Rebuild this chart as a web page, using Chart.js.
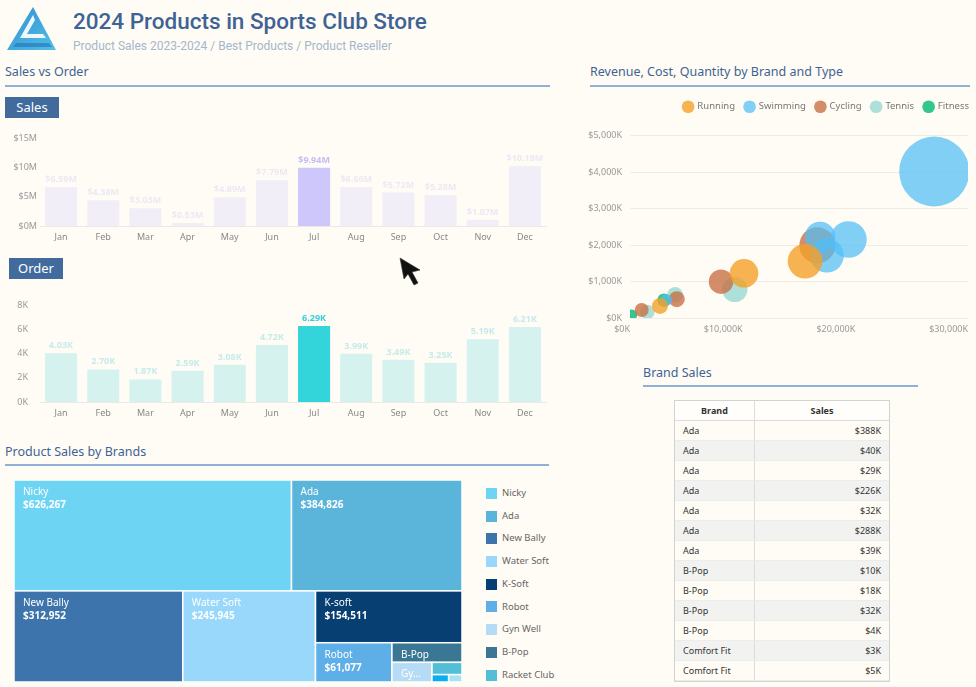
<!DOCTYPE html>
<html>
<head>
<meta charset="utf-8">
<title>2024 Products in Sports Club Store</title>
<script src="https://cdn.jsdelivr.net/npm/chart.js@4.4.1/dist/chart.umd.min.js"></script>
<style>
  body { margin: 0; width: 976px; height: 687px; background: #fffcf5; font-family: "Noto Sans", sans-serif; overflow: hidden; position: relative; }
  .abs { position: absolute; }
  .title { left: 73px; top: 8px; font-family: Roboto, sans-serif; font-size: 22.5px; font-weight: 500; color: #3e6394; white-space: nowrap; }
  .subtitle { left: 73px; top: 39px; font-family: Roboto, sans-serif; font-size: 12px; color: #a4b6cc; white-space: nowrap; }
  .section { font-size: 12.5px; color: #3e6394; white-space: nowrap; }
  .rule { height: 2px; background: #8fb0d8; }
  .tag { background: #406b9c; color: #fff; font-size: 13px; text-align: center; line-height: 21px; }
  .legend-item { position: absolute; left: 486px; font-size: 9.5px; color: #666; white-space: nowrap; }
  .legend-item span { display: inline-block; width: 11px; height: 11px; vertical-align: middle; margin-right: 5px; }
  table { border-collapse: collapse; font-size: 9px; color: #333; }
  th, td { height: 19px; padding: 0 8px; border-bottom: 1px solid #ececec; }
  th { background: #fffefb; font-weight: bold; text-align: center; border-bottom: 1px solid #dcdcdc; }
  td.num { text-align: right; }
  tr.alt td { background: #f2f2f1; }
</style>
</head>
<body>

<svg class="abs" style="left:4px;top:5px" width="54" height="48" viewBox="0 0 54 48">
  <defs>
    <linearGradient id="lg" x1="0" y1="0" x2="1" y2="1">
      <stop offset="0" stop-color="#2f8fd2"/>
      <stop offset="1" stop-color="#55bfe6"/>
    </linearGradient>
  </defs>
  <polygon points="29,2 3,45 52,45" fill="url(#lg)"/>
  <polygon points="29,10 16,33 42,33 39,29 23,29 31,15" fill="#ffffff" opacity="0.9"/>
  <polygon points="12,38 45,38 48,42 9,42" fill="#1f73b8" opacity="0.6"/>
</svg>
<div class="abs title">2024 Products in Sports Club Store</div>
<div class="abs subtitle">Product Sales 2023-2024 / Best Products / Product Reseller</div>

<div class="abs section" style="left:5px;top:63px">Sales vs Order</div>
<div class="abs rule" style="left:5px;top:85px;width:545px"></div>
<div class="abs section" style="left:590px;top:63px">Revenue, Cost, Quantity by Brand and Type</div>
<div class="abs rule" style="left:590px;top:85px;width:380px"></div>
<div class="abs section" style="left:5px;top:443px">Product Sales by Brands</div>
<div class="abs rule" style="left:5px;top:464px;width:544px"></div>
<div class="abs section" style="left:643px;top:364px">Brand Sales</div>
<div class="abs rule" style="left:643px;top:385px;width:275px"></div>

<div class="abs tag" style="left:5px;top:97px;width:54px;height:21px">Sales</div>
<div class="abs tag" style="left:9px;top:258px;width:54px;height:21px">Order</div>

<canvas id="salesChart" class="abs" style="left:0;top:128px" width="556" height="120"></canvas>
<canvas id="orderChart" class="abs" style="left:0;top:288px" width="556" height="134"></canvas>
<canvas id="bubbleChart" class="abs" style="left:560px;top:92px" width="416" height="248"></canvas>
<canvas id="treemapChart" class="abs" style="left:14px;top:480px" width="448" height="202"></canvas>
<div id="treemapLegend"></div>

<div class="abs" style="left:674px;top:400px;border:1px solid #d2d2d2">
  <table id="brandTable">
    <thead><tr><th style="width:63px">Brand</th><th style="width:118px;border-left:1px solid #dcdcdc">Sales</th></tr></thead>
    <tbody></tbody>
  </table>
</div>

<svg class="abs" style="left:399px;top:257px" width="24" height="30" viewBox="0 0 24 30">
  <polygon points="1,1 5,22 9,17 15,28 19,26 13,15 21,13" fill="#111" stroke="#333" stroke-width="0.6"/>
</svg>

<script>
// monthly sales vs orders
var months = ['Jan', 'Feb', 'Mar', 'Apr', 'May', 'Jun', 'Jul', 'Aug', 'Sep', 'Oct', 'Nov', 'Dec'];
var salesValues = [6.59, 4.38, 3.03, 0.53, 4.89, 7.79, 9.94, 6.66, 5.72, 5.28, 1.07, 10.18]; // $M
var orderValues = [4.03, 2.70, 1.87, 2.59, 3.08, 4.72, 6.29, 3.99, 3.49, 3.25, 5.19, 6.21]; // K
var highlightMonth = 'Jul';
var salesTickMax = 15;
var orderTickMax = 8;

// bubble points: [revenue $K, cost $K, quantity]
var bubbleTypes = ['Running', 'Swimming', 'Cycling', 'Tennis', 'Fitness'];
var runningPoints = [[15540, 1555, 1200], [10120, 1225, 820], [2660, 331, 256]];
var swimmingPoints = [[27000, 4014, 4900], [16870, 2220, 940], [19390, 2150, 1340], [17470, 1710, 1160], [3200, 490, 144]];
var cyclingPoints = [[16630, 1990, 1300], [8080, 995, 600], [4150, 517, 256], [1040, 221, 196]];
var tennisPoints = [[9300, 782, 640], [4000, 635, 244], [1540, 166, 212]];
var fitnessPoints = [[3020, 490, 180], [150, 83, 121]];

// treemap brands
var brandNames = ['Nicky', 'Ada', 'New Bally', 'Water Soft', 'K-soft', 'Robot', 'B-Pop', 'Gym Well', 'Racket Club', 'Comfort Fit', 'Sprint'];
var brandValues = [626267, 384826, 312952, 245945, 154511, 61077, 28000, 16000, 7500, 2500, 2000];
var legendNames = ['Nicky', 'Ada', 'New Bally', 'Water Soft', 'K-Soft', 'Robot', 'Gyn Well', 'B-Pop', 'Racket Club'];

// table rows
var tableBrands = ['Ada', 'Ada', 'Ada', 'Ada', 'Ada', 'Ada', 'Ada', 'B-Pop', 'B-Pop', 'B-Pop', 'B-Pop', 'Comfort Fit', 'Comfort Fit'];
var tableSales = [388, 40, 29, 226, 32, 288, 39, 10, 18, 32, 4, 3, 5]; // $K

var brandColors = {
  'Nicky': '#6dd5f3', 'Ada': '#5bb5da', 'New Bally': '#3d74ab', 'Water Soft': '#9ad8fb',
  'K-soft': '#073f72', 'Robot': '#5eaee8', 'B-Pop': '#3a7795', 'Gym Well': '#b6dbf4',
  'Racket Club': '#52bfd6', 'Comfort Fit': '#08aef0', 'Sprint': '#a7e3f7'
};
var legendColors = ['#6dd5f3', '#5bb5da', '#3d74ab', '#9ad8fb', '#073f72', '#5eaee8', '#b6dbf4', '#3a7795', '#52bfd6'];
var typeColors = ['rgba(245,160,40,0.8)', 'rgba(80,190,245,0.72)', 'rgba(200,112,70,0.8)', 'rgba(150,215,208,0.78)', 'rgba(40,195,135,0.95)'];

var tickFont = { family: '"Noto Sans", sans-serif', size: 9 };

// value labels above bars
function makeBarLabels(format, color, hiColor) {
  return {
    id: 'barLabels',
    afterDatasetsDraw: function(chart) {
      var ctx = chart.ctx;
      var meta = chart.getDatasetMeta(0);
      var data = chart.data.datasets[0].data;
      ctx.save();
      ctx.textAlign = 'center';
      ctx.textBaseline = 'bottom';
      ctx.font = 'bold 9px "Noto Sans", sans-serif';
      meta.data.forEach(function(bar, i) {
        ctx.fillStyle = months[i] === highlightMonth ? hiColor : color;
        ctx.fillText(format(data[i]), bar.x, bar.y - 3);
      });
      ctx.restore();
    }
  };
}

function barChart(id, values, max, step, color, hiColor, labelPlugin, tickFmt, tickPad, axisH) {
  return new Chart(document.getElementById(id), {
    type: 'bar',
    data: {
      labels: months,
      datasets: [{
        data: values,
        backgroundColor: months.map(function(m) { return m === highlightMonth ? hiColor : color; }),
        barPercentage: 0.76,
        categoryPercentage: 1
      }]
    },
    options: {
      responsive: false,
      animation: false,
      layout: { padding: { top: 10, right: 10 } },
      plugins: { legend: { display: false }, tooltip: { enabled: false } },
      scales: {
        x: {
          grid: { display: false, drawTicks: false },
          border: { display: true, color: '#ebe9e4' },
          ticks: { color: '#888', font: tickFont, padding: 6 },
          afterFit: function(s) { s.height = axisH; }
        },
        y: {
          min: 0, max: max,
          grid: { display: false, drawTicks: false },
          border: { display: false },
          ticks: { stepSize: step, color: '#999', font: tickFont, padding: tickPad, callback: tickFmt },
          afterFit: function(s) { s.width = 40; }
        }
      }
    },
    plugins: [labelPlugin]
  });
}

barChart('salesChart', salesValues, salesTickMax, 5, '#f2eef8', '#cec7fb',
  makeBarLabels(function(v) { return '$' + v.toFixed(2) + 'M'; }, '#ece8f4', '#c4bcf7'),
  function(v) { return '$' + v + 'M'; }, 3, 22);

barChart('orderChart', orderValues, orderTickMax, 2, '#d5f2ef', '#33d4da',
  makeBarLabels(function(v) { return v.toFixed(2) + 'K'; }, '#c5ebeb', '#35cfd8'),
  function(v) { return v + 'K'; }, 12, 20);

// bubble chart
var pointSets = [runningPoints, swimmingPoints, cyclingPoints, tennisPoints, fitnessPoints];
var legendGap = {
  id: 'legendGap',
  afterInit: function(chart) {
    var lg = chart.legend;
    var fit = lg.fit;
    lg.fit = function() {
      fit.apply(this, arguments);
      this.height += 14;
    };
  },
  afterLayout: function(chart) {
    chart.legend.right += 11;
  }
};

new Chart(document.getElementById('bubbleChart'), {
  type: 'bubble',
  data: {
    datasets: bubbleTypes.map(function(t, i) {
      return {
        label: t,
        data: pointSets[i].map(function(p) { return { x: p[0], y: p[1], r: Math.sqrt(p[2]) / 2 }; }),
        backgroundColor: typeColors[i],
        borderWidth: 0
      };
    })
  },
  options: {
    responsive: false,
    animation: false,
    layout: { autoPadding: false, padding: { right: 8 } },
    plugins: {
      tooltip: { enabled: false },
      legend: {
        position: 'top',
        align: 'end',
        labels: { usePointStyle: true, pointStyle: 'circle', boxWidth: 9, boxHeight: 9, padding: 10, color: '#777', font: { family: '"Noto Sans", sans-serif', size: 9.5 } }
      }
    },
    scales: {
      x: {
        min: 0, max: 30000,
        grid: { display: false, drawTicks: false },
        border: { display: false },
        ticks: { stepSize: 10000, align: 'end', color: '#999', font: tickFont, padding: 6,
          callback: function(v) { return '$' + v.toLocaleString('en-US') + 'K'; } },
        afterFit: function(s) { s.height = 22; }
      },
      y: {
        min: 0, max: 5000,
        grid: { color: '#efece5', drawTicks: false },
        border: { display: false },
        ticks: { stepSize: 1000, color: '#999', font: tickFont, padding: 8,
          callback: function(v) { return '$' + v.toLocaleString('en-US') + 'K'; } },
        afterFit: function(s) { s.width = 70; }
      }
    }
  },
  plugins: [legendGap]
});

// treemap: balanced binary split, cut direction follows box shape
function sumOf(items) { return items.reduce(function(a, b) { return a + b.value; }, 0); }
function splitCells(items, x, y, w, h, out) {
  if (items.length === 1) { out.push({ item: items[0], x: x, y: y, w: w, h: h }); return; }
  var total = sumOf(items), acc = 0, cut = 1, best = Infinity;
  for (var i = 0; i < items.length - 1; i++) {
    acc += items[i].value;
    var d = Math.abs(acc - total / 2);
    if (d < best) { best = d; cut = i + 1; }
  }
  var a = items.slice(0, cut), b = items.slice(cut);
  var f = sumOf(a) / total;
  if (w > h * 2.5) {
    splitCells(a, x, y, w * f, h, out);
    splitCells(b, x + w * f, y, w * (1 - f), h, out);
  } else {
    splitCells(a, x, y, w, h * f, out);
    splitCells(b, x, y + h * f, w, h * (1 - f), out);
  }
}

var treemapCells = {
  id: 'treemapCells',
  afterDatasetsDraw: function(chart) {
    var xs = chart.scales.x, ys = chart.scales.y;
    var left = xs.getPixelForValue(0), right = xs.getPixelForValue(1);
    var top = ys.getPixelForValue(1), bottom = ys.getPixelForValue(0);
    var items = brandNames.map(function(n, i) { return { name: n, value: brandValues[i] }; });
    var cells = [];
    splitCells(items, left, top, right - left, bottom - top, cells);
    var ctx = chart.ctx;
    ctx.save();
    cells.forEach(function(c) {
      ctx.fillStyle = brandColors[c.item.name];
      ctx.fillRect(c.x, c.y, c.w, c.h);
      ctx.strokeStyle = '#ffffff';
      ctx.lineWidth = 1.5;
      ctx.strokeRect(c.x, c.y, c.w, c.h);
      if (c.h < 16 || c.w < 24) return;
      ctx.fillStyle = '#ffffff';
      ctx.textBaseline = 'middle';
      ctx.font = '10px "Noto Sans", sans-serif';
      var name = c.item.name;
      var room = c.w - 14;
      if (ctx.measureText(name).width > room) {
        while (name.length > 1 && ctx.measureText(name + '...').width > room) name = name.slice(0, -1);
        name = name + '...';
      }
      ctx.fillText(name, c.x + 9, c.y + 12);
      if (c.h >= 36 && c.w >= 50) {
        ctx.font = 'bold 10px "Noto Sans", sans-serif';
        ctx.fillText('$' + c.item.value.toLocaleString('en-US'), c.x + 9, c.y + 25);
      }
    });
    ctx.restore();
  }
};

new Chart(document.getElementById('treemapChart'), {
  type: 'scatter',
  data: { datasets: [{ data: [] }] },
  options: {
    responsive: false,
    animation: false,
    plugins: { legend: { display: false }, tooltip: { enabled: false } },
    scales: {
      x: { min: 0, max: 1, display: false },
      y: { min: 0, max: 1, display: false }
    }
  },
  plugins: [treemapCells]
});

var legendBox = document.getElementById('treemapLegend');
legendNames.forEach(function(n, i) {
  var d = document.createElement('div');
  d.className = 'legend-item';
  d.style.top = (486 + i * 22.7) + 'px';
  d.innerHTML = '<span style="background:' + legendColors[i] + '"></span>' + n;
  legendBox.appendChild(d);
});

// brand sales table
var tbody = document.querySelector('#brandTable tbody');
tableBrands.forEach(function(b, i) {
  var tr = document.createElement('tr');
  if (i % 2 === 1) tr.className = 'alt';
  tr.innerHTML = '<td>' + b + '</td><td class="num" style="border-left:1px solid #dcdcdc">$' + tableSales[i] + 'K</td>';
  tbody.appendChild(tr);
});
</script>
</body>
</html>
